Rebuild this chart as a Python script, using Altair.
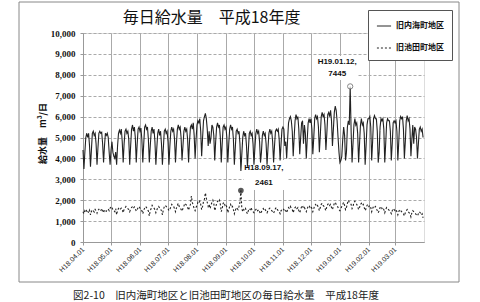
import altair as alt
import pandas as pd

# ---- data ----
series_names = ["旧内海町地区", "旧池田町地区"]

uchinomi_apr = [4400,3500,4300,5000,5200,5000,5200,4600,3600,4400,5200,5300,5100,5200,4700,3700,4500,5200,5300,5200,5250,4700,3800,4600,5200,5100,5200,5000,4300,3700]
uchinomi_may = [4400,4800,4300,4100,4000,4300,3700,4600,5200,5350,5200,5400,4800,3800,4700,5300,5400,5200,5300,4900,3700,4600,5400,5600,5300,5500,5000,3800,4700,5400,5500]
uchinomi_jun = [5300,5450,4900,3800,4700,5500,5600,5400,5500,4900,3800,4600,5300,5500,5200,5400,4800,3700,4500,5200,5400,5100,5300,4700,3700,4500,5300,5400,5200,5300]
uchinomi_jul = [4800,3700,4600,5300,5500,5300,5400,4900,3800,4700,5400,5600,5400,5500,5000,3900,4600,5300,5500,5300,5400,4900,3800,4800,5500,5600,5400,5700,5100,4000,4900]
uchinomi_aug = [5600,5800,5700,5900,5300,4100,5000,5800,6000,6150,5900,5400,4600,5300,4700,5000,5600,5500,5100,3900,4800,5500,5700,5500,5600,5000,3800,4700,5500,5600,5400]
uchinomi_sep = [5500,5000,3800,4700,5400,5600,5400,5500,4900,3700,4500,5300,5400,5200,5300,4700,3400,4200,5000,5300,5100,5200,4600,3600,4400,5200,5300,5100,5200,4700]
uchinomi_oct = [3700,4500,5200,5400,5200,5300,4800,3800,4300,5100,5300,5100,5200,4700,3700,4500,5200,5400,5200,5300,4800,3800,4600,5300,5400,5300,5400,4900,3900,4700,5400]
uchinomi_nov = [5500,5400,4600,4800,4000,4900,5700,5900,6000,5800,5300,4100,5000,5800,6100,5900,6000,5400,4200,5000,5700,5800,4700,5600,5200,4000,4900,5700,5900,5700]
uchinomi_dec = [5900,5400,4200,5000,5900,6100,5900,6000,5500,4300,5100,6000,6200,6000,6100,5600,4400,5200,6100,6200,6000,6300,5800,4600,5400,6200,6500,6300,5800,5000,4300]
uchinomi_jan = [3800,3900,4100,4900,5500,5100,3900,4300,5500,5800,5600,7445,5300,3800,4700,5600,5900,5600,5700,5200,3800,4700,5600,5900,5600,5700,5200,3700,4600,5600,5900]
uchinomi_feb = [5900,6000,5500,3900,4800,5900,6050,5900,5900,5300,3800,4300,5500,5900,5800,5900,5400,3800,4700,5700,5900,5800,5800,5300,3900,4700,5700,5800]
uchinomi_mar = [5700,5800,5300,3900,4800,5800,6000,5900,6000,5400,4000,4800,5800,6050,5800,5900,5400,4100,4900,5600,4700,5500,5400,5000,4000,4700,5400,5500,5300,5400,5000]

ikeda_apr = [1450,1350,1500,1420,1550,1480,1400,1520,1300,1460,1540,1500,1430,1560,1490,1380,1510,1570,1530,1480,1600,1520,1400,1550,1500,1470,1540,1580,1500,1620]
ikeda_may = [1700,1650,1550,1500,1450,1600,1300,1520,1600,1650,1580,1620,1550,1400,1560,1630,1700,1650,1600,1550,1450,1580,1650,1700,1620,1680,1600,1480,1560,1650,1700]
ikeda_jun = [1620,1580,1500,1350,1520,1620,1700,1650,1550,1480,1250,1500,1600,1750,1680,1620,1550,1400,1520,1650,1700,1620,1600,1480,1300,1550,1680,1750,1700,1650]
ikeda_jul = [1600,1500,1550,1680,1800,1750,1700,1600,1450,1620,1750,1850,1700,1650,1550,1480,1600,1720,1850,1800,1750,1650,1520,1680,1800,2200,1900,1750,1600,1500,1650]
ikeda_aug = [1750,1900,1850,1950,1800,1550,1700,1950,2050,2350,2100,1900,1700,1800,1600,1750,1900,2000,1850,1500,1650,1850,1950,1900,2000,1800,1450,1600,1850,1900,1750]
ikeda_sep = [1800,1650,1400,1550,1700,1800,1650,1700,1550,1350,1500,1650,1600,1550,1700,1900,2461,1600,1450,1550,1500,1600,1450,1350,1500,1600,1550,1650,1500,1450]
ikeda_oct = [1400,1500,1550,1600,1500,1550,1450,1350,1450,1550,1600,1500,1550,1480,1400,1500,1580,1620,1550,1500,1450,1380,1480,1600,1650,1550,1500,1450,1350,1500,1550]
ikeda_nov = [1600,1550,1450,1500,1400,1550,1650,1600,1700,1600,1550,1400,1550,1650,1700,1600,1650,1500,1400,1550,1700,1750,1600,1650,1550,1450,1600,1700,1750,1650]
ikeda_dec = [1700,1600,1450,1600,1750,1800,1700,1750,1650,1500,1650,1800,1850,1750,1700,1600,1500,1700,1800,1850,1750,1800,1650,1550,1700,1850,1900,1800,1750,1650,1550]
ikeda_jan = [1500,1600,1700,1800,1900,1750,1550,1650,1850,2000,1900,1850,1800,1600,1700,1900,1950,1850,1800,1700,1550,1650,1800,1850,1750,1800,1650,1500,1600,1750,1800]
ikeda_feb = [1700,1750,1650,1450,1600,1700,1650,1700,1600,1500,1400,1500,1650,1700,1600,1650,1550,1400,1550,1650,1600,1550,1500,1450,1350,1500,1600,1550]
ikeda_mar = [1500,1550,1450,1300,1450,1550,1500,1450,1400,1350,1250,1400,1500,1550,1450,1400,1350,1200,1400,1500,1450,1400,1350,1300,1250,1350,1450,1400,1300,1350,1150]

peak_points = [
    {"date": "2007-01-12", "value": 7445, "l1": "H19.01.12,", "l2": "7445"},
]
ikeda_peak = [
    {"date": "2006-09-17", "value": 2461, "l1": "H18.09.17,", "l2": "2461"},
]

title_text = "毎日給水量　平成18年度"
caption_text = "図2-10　旧内海町地区と旧池田町地区の毎日給水量　平成18年度"
y_title = "給水量　m³/日"

uchinomi = (uchinomi_apr + uchinomi_may + uchinomi_jun + uchinomi_jul + uchinomi_aug + uchinomi_sep +
            uchinomi_oct + uchinomi_nov + uchinomi_dec + uchinomi_jan + uchinomi_feb + uchinomi_mar)
ikeda = (ikeda_apr + ikeda_may + ikeda_jun + ikeda_jul + ikeda_aug + ikeda_sep +
         ikeda_oct + ikeda_nov + ikeda_dec + ikeda_jan + ikeda_feb + ikeda_mar)

dates = pd.date_range("2006-04-01", "2007-03-31").strftime("%Y-%m-%d").tolist()
df = pd.concat([
    pd.DataFrame({"date": dates, "value": uchinomi, "series": series_names[0]}),
    pd.DataFrame({"date": dates, "value": ikeda, "series": series_names[1]}),
])

month_starts = [alt.DateTime(year=2006 + (m < 4), month=m, date=1, utc=True)
                for m in [4, 5, 6, 7, 8, 9, 10, 11, 12, 1, 2, 3]]

X = alt.X("date:T",
          scale=alt.Scale(type="utc", domain=[alt.DateTime(year=2006, month=4, date=1, utc=True),
                                              alt.DateTime(year=2007, month=4, date=1, utc=True)]),
          axis=alt.Axis(values=month_starts, title=None,
                        labelExpr="'H' + (utcyear(datum.value) - 1988) + '.' + utcFormat(datum.value, '%m.%d')",
                        labelAngle=-45, labelAlign="right", labelBaseline="middle",
                        labelFont="Liberation Sans", labelFontSize=7, labelColor="#222",
                        labelOverlap=False, labelBound=False, labelFlush=False,
                        labelPadding=3, tickSize=3, tickColor="#999", grid=True,
                        gridColor="#aaa", gridWidth=1, domainColor="#999"))
Y = alt.Y("value:Q",
          scale=alt.Scale(domain=[0, 10000], nice=False),
          axis=alt.Axis(values=list(range(0, 10001, 1000)), format=",d",
                        title=y_title, titleFont="Noto Sans CJK JP", titleFontWeight="bold",
                        titleFontSize=9, titleAngle=-90, titleX=-36, titleY=100,
                        titleAlign="center", titleBaseline="bottom", titleColor="#111",
                        labelFont="Liberation Serif", labelFontWeight="bold", labelFontSize=9,
                        labelColor="#111", labelPadding=5, tickSize=3, tickColor="#999",
                        grid=True, gridColor="#aaa", gridDash=[3, 2], domainColor="#999"))

blank = alt.Data(values=[{}])

frame = alt.Chart(blank).mark_rect(fill="white", fillOpacity=0, stroke="#888", strokeWidth=1).encode(
    x=alt.value(-64), x2=alt.value(376), y=alt.value(-31), y2=alt.value(249))

bg1 = alt.Chart(blank).mark_rect(fill="white").encode(
    x=alt.value(229), x2=alt.value(275), y=alt.value(23), y2=alt.value(47))
bg2 = alt.Chart(blank).mark_rect(fill="white").encode(
    x=alt.value(161), x2=alt.value(205), y=alt.value(127), y2=alt.value(157))

lines = alt.Chart(df).mark_line(strokeWidth=1.1, color="#222").encode(
    x=X, y=Y,
    strokeDash=alt.StrokeDash("series:N",
                              scale=alt.Scale(domain=series_names, range=[[1, 0], [2, 2]]),
                              legend=alt.Legend(title=None, orient="none", legendX=285, legendY=-23,
                                                strokeColor="#555", fillColor="white", padding=8,
                                                symbolType="stroke", symbolSize=200,
                                                symbolStrokeColor="#222", symbolStrokeWidth=1,
                                                labelFont="Noto Sans CJK JP", labelFontSize=8,
                                                labelFontWeight="bold", labelColor="#111",
                                                rowPadding=10, labelOffset=4)),
)

pt1 = alt.Chart(alt.Data(values=peak_points)).mark_point(
    shape="circle", size=28, filled=True, fill="white", stroke="#555", strokeWidth=1
).encode(x=X, y=Y)
pt2 = alt.Chart(alt.Data(values=ikeda_peak)).mark_point(
    shape="circle", size=32, filled=True, color="#111"
).encode(x=X, y=Y)

def ann(data, dx, dy1, dy2):
    base = alt.Chart(alt.Data(values=data))
    t1 = base.mark_text(font="Liberation Sans", fontWeight="bold", fontSize=8, color="#111",
                        dx=dx, dy=dy1).encode(x=X, y=Y, text="l1:N")
    t2 = base.mark_text(font="Liberation Sans", fontWeight="bold", fontSize=8, color="#111",
                        dx=dx, dy=dy2).encode(x=X, y=Y, text="l2:N")
    return [t1, t2]

title = alt.Chart(blank).mark_text(font="Noto Sans CJK JP", fontSize=16, color="#111",
                                   align="center", baseline="middle").encode(
    x=alt.value(128.5), y=alt.value(-15), text=alt.value(title_text))
caption = alt.Chart(blank).mark_text(font="Noto Sans CJK JP", fontSize=10.5, color="#222",
                                     align="center", baseline="middle").encode(
    x=alt.value(143), y=alt.value(263), text=alt.value(caption_text))

chart = alt.layer(
    frame, bg1, bg2, lines, pt1, pt2,
    *ann(peak_points, -13, -24, -12), *ann(ikeda_peak, 23, -23, -8),
    title, caption,
).properties(
    width=341, height=209,
    autosize=alt.AutoSizeParams(type="none"),
    padding={"left": 83, "top": 33, "right": 56, "bottom": 60},
).configure_view(stroke="#aaa").configure(background="white")

chart.save("out.html", embed_options={"renderer": "svg", "actions": False})
